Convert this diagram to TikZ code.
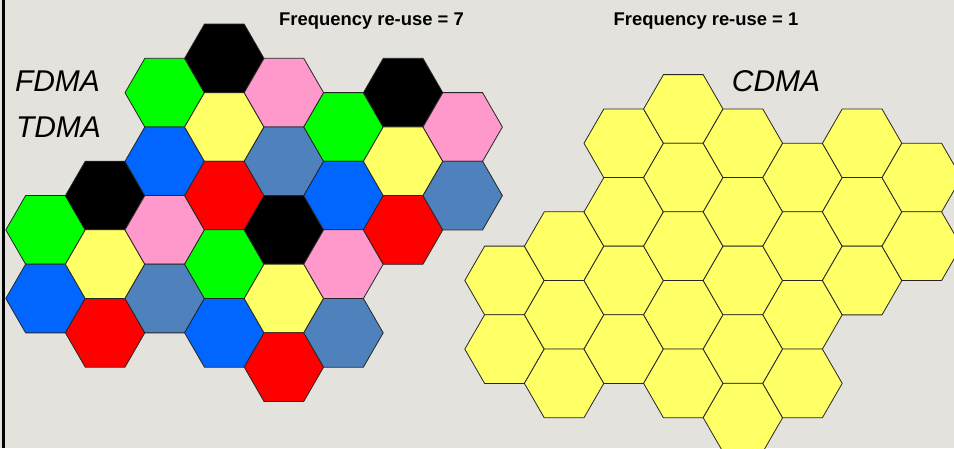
\documentclass[tikz,border=0pt]{standalone}
\usepackage{fontspec}
\setmainfont{Liberation Sans}
\usepackage{xcolor}
\usepackage{tikz}

\definecolor{bgcol}{HTML}{E4E2DC}
\definecolor{cgreen}{HTML}{00FF00}
\definecolor{cblue}{HTML}{0066FF}
\definecolor{cpink}{HTML}{FF99CC}
\definecolor{cyellow}{HTML}{FFFF66}
\definecolor{csteel}{HTML}{4F81BD}
\definecolor{cred}{HTML}{FF0000}

\newcommand{\hexcell}[2]{\draw[cell,fill=#2] (#1) ++(0:39.7) -- ++(120:39.7) -- ++(180:39.7) -- ++(240:39.7) -- ++(300:39.7) -- ++(0:39.7) -- cycle;}

\begin{document}
\begin{tikzpicture}[x=1pt,y=-1pt,
  cell/.style={draw=black!85,line width=0.8pt,line join=miter},
  scheme/.style={font=\fontsize{30}{36}\selectfont\itshape,anchor=base,inner sep=0pt},
  headline/.style={font=\fontsize{18.4}{22}\selectfont\bfseries,anchor=base,inner sep=0pt}]

\useasboundingbox (0,0) rectangle (954,448);
\fill[bgcol] (0,0) rectangle (954,448);
\clip (0,0) rectangle (954,448);
\draw[line width=3pt] (3.5,0) -- (3.5,448);

\foreach \c/\r/\col in {0/5/cgreen,0/7/cblue,1/4/black,1/6/cyellow,1/8/cred,
  2/1/cgreen,2/3/cblue,2/5/cpink,2/7/csteel,3/0/black,3/2/cyellow,3/4/cred,3/6/cgreen,3/8/cblue,
  4/1/cpink,4/3/csteel,4/5/black,4/7/cyellow,4/9/cred,5/2/cgreen,5/4/cblue,5/6/cpink,5/8/csteel,
  6/1/black,6/3/cyellow,6/5/cred,7/2/cpink,7/4/csteel}{
  \coordinate (L) at ({45.5+59.6*\c},{58.4+34.3*\r});
  \coordinate (R) at ({504.5+59.6*\c},{109+34.3*\r});
  \hexcell{L}{\col}
  \hexcell{R}{cyellow}
}

\node[headline] (fr7) at (371.5,25) {Frequency re-use = 7};
\node[headline] (fr1) at (706,25) {Frequency re-use = 1};
\node[scheme] (fdma) at (57.5,91) {FDMA};
\node[scheme] (tdma) at (58.5,137.5) {TDMA};
\node[scheme] (cdma) at (776,91.5) {CDMA};

\end{tikzpicture}
\end{document}
